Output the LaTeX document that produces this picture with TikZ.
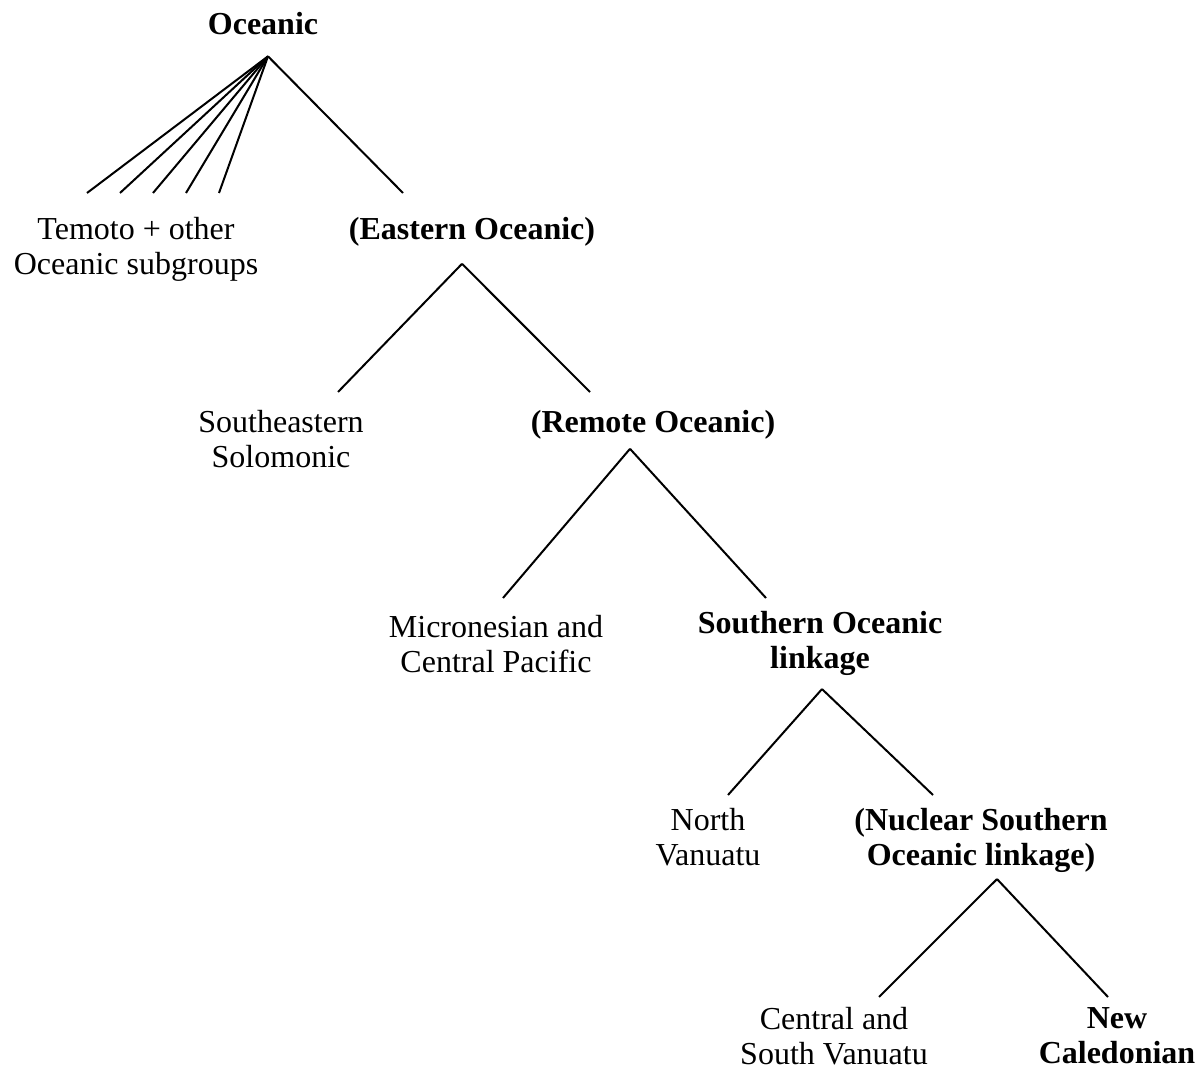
\documentclass[tikz,border=0pt]{standalone}
\usepackage{fontspec}
\setmainfont{Liberation Serif}
\usepackage{tikz}
\usetikzlibrary{calc}
\tikzset{
  lang/.style={anchor=north, align=center, inner sep=0pt,
               font=\fontsize{16pt}{17.5pt}\selectfont},
  grp/.style={lang, font=\fontsize{16pt}{17.5pt}\selectfont\bfseries},
}

\begin{document}
\begin{tikzpicture}[
  x=0.5pt, y=-0.5pt,
  branch/.style={line width=1pt, black}
]
  \useasboundingbox (0,0) rectangle (1203,1068);
  % tree nodes
  \node[grp]  (oce)     at (263,12)   {Oceanic};
  \node[lang] (temoto)  at (136,217)  {Temoto + other\\Oceanic subgroups};
  \node[grp]  (east)    at (472,217)  {(Eastern Oceanic)};
  \node[lang] (sesol)   at (281,410)  {Southeastern\\Solomonic};
  \node[grp]  (remote)  at (653,410)  {(Remote Oceanic)};
  \node[lang] (micro)   at (496,615)  {Micronesian and\\Central Pacific};
  \node[grp]  (south)   at (820,611)  {Southern Oceanic\\linkage};
  \node[lang] (nvan)    at (708,808)  {North\\Vanuatu};
  \node[grp]  (nuclear) at (981,808)  {(Nuclear Southern\\Oceanic linkage)};
  \node[lang] (csvan)   at (834,1007) {Central and\\South Vanuatu};
  \node[grp]  (newcal)  at (1117,1007) {New\\Caledonian};
  % branches
  \foreach \dx in {-49,-16,17,50,83}
    \draw[branch] ($(oce.south)+(5,21)$) -- ($(temoto.north)+(\dx,-24)$);
  \draw[branch] ($(oce.south)+(5,21)$) -- ($(east.north)+(-69,-24)$);
  \draw[branch] ($(east.south)+(-10,17)$) -- ($(sesol.north)+(57,-18)$);
  \draw[branch] ($(east.south)+(-10,17)$) -- ($(remote.north)+(-63,-18)$);
  \draw[branch] ($(remote.south)+(-23,9)$) -- ($(micro.north)+(7,-17)$);
  \draw[branch] ($(remote.south)+(-23,9)$) -- ($(south.north)+(-54,-13)$);
  \draw[branch] ($(south.south)+(2,13)$) -- ($(nvan.north)+(20,-13)$);
  \draw[branch] ($(south.south)+(2,13)$) -- ($(nuclear.north)+(-48,-13)$);
  \draw[branch] ($(nuclear.south)+(16,6)$) -- ($(csvan.north)+(45,-10)$);
  \draw[branch] ($(nuclear.south)+(16,6)$) -- ($(newcal.north)+(-9,-10)$);
\end{tikzpicture}
\end{document}
